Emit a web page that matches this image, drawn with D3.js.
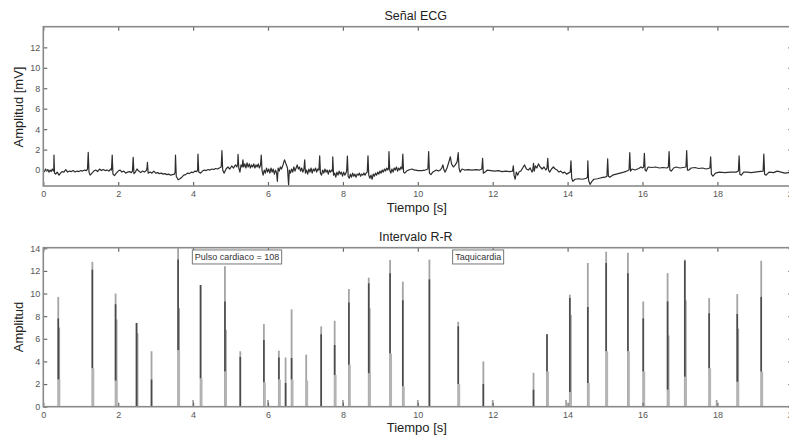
<!DOCTYPE html>
<html><head><meta charset="utf-8">
<script src="https://cdn.jsdelivr.net/npm/d3@7"></script>
<style>body{margin:0;background:#fff}svg{display:block}text{font-family:"Liberation Sans",Arial,sans-serif}</style>
</head><body><svg id="c" width="789" height="439"></svg>
<script>
// ---------- data ----------
const xTicks = [0,2,4,6,8,10,12,14,16,18,20];
const ecgYTicks = [0,2,4,6,8,10,12];
const rrYTicks = [0,2,4,6,8,10,12,14];
const ecgTitle = "Señal ECG", rrTitle = "Intervalo R-R";
const xLabel = "Tiempo [s]", ecgYLabel = "Amplitud [mV]", rrYLabel = "Amplitud";

// ECG trace, [time s, amplitude mV]
const ecgPoints = [
[0,0.0],[0.03,-0.15],[0.06,0.1],[0.09,-0.1],[0.12,0.05],[0.15,-0.2],[0.18,0.0],[0.21,-0.15],[0.24,0.1],[0.27,-0.1],
[0.28,0.0],[0.285,1.47],[0.30,-0.3],[0.33,-0.4],[0.37,-0.2],[0.42,-0.5],[0.46,-0.3],[0.5,-0.15],[0.55,-0.2],[0.6,0.05],[0.65,-0.2],[0.7,-0.1],[0.75,-0.15],[0.8,-0.05],[0.85,-0.2],[0.9,-0.1],[0.95,-0.15],[1.0,-0.05],[1.05,-0.1],[1.1,0.0],[1.15,-0.05],[1.18,0.1],
[1.2,1.73],[1.22,-0.2],[1.25,-0.5],[1.3,-0.3],[1.35,-0.1],[1.4,0.0],[1.45,-0.15],[1.5,0.1],[1.55,-0.05],[1.6,0.05],[1.65,-0.05],[1.7,0.0],[1.75,-0.1],[1.8,0.1],[1.82,0.0],
[1.84,1.47],[1.86,-0.4],[1.9,-0.55],[1.95,-0.3],[2.0,-0.1],[2.05,0.0],[2.1,-0.2],[2.15,-0.1],[2.2,-0.3],[2.25,-0.2],[2.3,-0.15],[2.35,-0.25],[2.38,-0.1],
[2.4,1.24],[2.42,-0.35],[2.46,-0.2],[2.5,0.1],[2.55,-0.1],[2.6,-0.25],[2.65,-0.1],[2.7,-0.2],[2.75,-0.05],[2.77,0.2],
[2.78,0.75],[2.8,-0.3],[2.85,-0.2],[2.9,-0.3],[2.95,-0.1],[3.0,-0.3],[3.05,-0.25],[3.1,-0.35],[3.15,-0.3],[3.2,-0.4],[3.25,-0.35],[3.3,-0.45],[3.35,-0.4],[3.4,-0.5],[3.45,-0.45],[3.5,-0.4],[3.52,-0.2],
[3.53,1.47],[3.55,-0.6],[3.6,-0.95],[3.65,-0.85],[3.7,-0.7],[3.75,-0.5],[3.8,-0.45],[3.85,-0.3],[3.9,-0.35],[3.95,-0.2],[4.0,-0.25],[4.05,-0.1],[4.1,-0.15],[4.12,0.0],
[4.13,1.57],[4.15,-0.2],[4.2,-0.3],[4.25,-0.1],[4.3,0.0],[4.35,-0.05],[4.4,0.05],[4.45,0.0],[4.5,0.1],[4.55,0.05],[4.6,0.15],[4.65,0.1],[4.7,0.2],[4.75,0.3],
[4.77,1.9],[4.79,0.0],[4.83,-0.3],[4.88,0.1],[4.93,0.3],[4.98,0.1],[5.03,0.4],[5.08,0.2],[5.13,0.5],[5.17,0.3],[5.19,0.6],
[5.2,1.53],[5.22,0.2],[5.25,-0.2],[5.28,0.5],[5.31,0.3],[5.33,1.0],[5.35,0.3],[5.38,0.6],[5.41,0.2],[5.44,0.7],[5.47,0.3],[5.5,0.6],[5.53,0.2],[5.56,0.5],[5.59,0.3],[5.62,0.6],[5.65,0.2],[5.68,0.5],[5.71,0.3],[5.74,0.6],[5.77,0.2],[5.8,0.5],
[5.82,1.47],[5.84,0.0],[5.87,-0.5],[5.9,0.0],[5.93,-0.3],[5.96,0.2],[5.99,-0.2],[6.02,0.1],[6.05,-0.3],[6.08,0.2],[6.11,-0.2],[6.14,0.1],[6.17,-0.4],[6.2,0.0],[6.23,-0.3],[6.25,-1.1],[6.27,0.2],[6.3,-0.1],[6.33,0.3],[6.36,0.1],[6.4,0.5],[6.44,1.0],[6.48,0.6],[6.52,0.2],[6.55,-1.47],[6.57,0.0],[6.6,-0.3],[6.63,0.1],[6.66,-0.2],[6.69,0.3],[6.72,-0.1],[6.75,0.2],[6.78,0.5],[6.81,0.1],[6.84,0.3],[6.87,-0.1],[6.9,0.2],[6.93,-0.2],[6.96,0.1],
[6.98,1.0],[7.0,-0.3],[7.03,0.0],[7.06,-0.4],[7.09,0.1],[7.12,-0.2],[7.15,0.2],[7.18,-0.3],[7.21,0.1],[7.24,-0.1],[7.27,0.2],[7.3,-0.2],[7.33,0.1],[7.36,0.0],
[7.38,1.4],[7.4,-0.3],[7.43,-0.5],[7.46,0.0],[7.49,-0.3],[7.52,0.1],[7.55,-0.2],[7.58,0.0],[7.61,-0.4],[7.64,0.0],[7.67,-0.2],[7.7,0.0],[7.72,-0.1],
[7.73,1.3],[7.75,-0.5],[7.78,-0.3],[7.81,-0.7],[7.84,-0.2],[7.87,-0.5],[7.9,-0.1],[7.93,-0.4],[7.96,-0.2],[7.99,-0.6],[8.02,-0.2],[8.05,-0.5],[8.08,-0.3],[8.1,-0.1],
[8.12,1.37],[8.14,-0.6],[8.17,-0.8],[8.2,-0.4],[8.23,-0.7],[8.26,-0.3],[8.29,-0.6],[8.32,-0.4],[8.35,-0.7],[8.38,-0.4],[8.41,-0.5],[8.44,-0.3],[8.47,-0.6],[8.5,-0.4],[8.53,-0.5],[8.56,-0.3],[8.59,-0.5],[8.62,-0.3],[8.65,-0.2],
[8.67,1.4],[8.69,-0.5],[8.72,-0.8],[8.75,-0.5],[8.78,-0.9],[8.81,-0.4],[8.84,-0.6],[8.87,-0.3],[8.9,-0.5],[8.93,-0.2],[8.96,-0.4],[8.99,-0.1],[9.02,-0.3],[9.05,0.0],[9.08,-0.2],[9.11,0.1],[9.14,-0.1],[9.17,0.2],[9.2,0.0],[9.22,0.2],
[9.23,1.8],[9.25,0.0],[9.28,-0.3],[9.31,0.1],[9.34,-0.2],[9.37,0.2],[9.4,0.0],[9.43,0.3],[9.46,-0.1],[9.49,0.2],[9.52,0.0],[9.55,0.3],[9.58,0.1],
[9.6,1.57],[9.62,-0.2],[9.65,-0.3],[9.7,-0.1],[9.75,0.0],[9.8,0.05],[9.85,0.1],[9.9,0.0],[9.95,0.0],[10.0,-0.05],[10.1,-0.05],[10.2,0.0],[10.27,0.1],
[10.29,1.8],[10.31,-0.3],[10.35,-0.45],[10.4,-0.2],[10.5,0.0],[10.55,-0.1],[10.6,0.0],[10.64,0.2],[10.67,0.5],[10.7,0.0],[10.73,-0.2],[10.78,0.2],[10.83,0.8],[10.87,1.3],[10.9,0.6],[10.95,0.3],[11.0,0.5],[11.05,0.8],
[11.08,1.7],[11.1,0.2],[11.13,-0.2],[11.18,0.1],[11.25,0.0],[11.35,0.05],[11.45,0.0],[11.55,0.05],[11.65,0.0],[11.71,0.1],
[11.73,1.14],[11.75,-0.3],[11.8,-0.2],[11.85,0.0],[11.95,-0.05],[12.05,-0.1],[12.15,-0.05],[12.25,-0.15],[12.35,-0.1],[12.45,-0.15],[12.53,-0.1],
[12.55,0.42],[12.57,-0.5],[12.6,-0.9],[12.63,-0.2],[12.67,-0.5],[12.7,-0.2],[12.75,-0.1],[12.8,0.2],[12.85,0.5],[12.9,0.1],[12.95,0.0],[13.0,0.2],[13.05,-0.2],[13.07,0.0],
[13.09,0.65],[13.11,-0.1],[13.14,0.4],[13.18,0.2],[13.22,0.6],[13.27,0.3],[13.32,0.1],[13.37,0.3],[13.42,0.0],[13.45,0.2],
[13.47,1.14],[13.49,0.0],[13.52,-0.2],[13.57,0.1],[13.62,0.3],[13.67,0.1],[13.72,0.0],[13.77,-0.2],[13.82,-0.1],[13.87,-0.3],[13.92,-0.2],[13.97,-0.4],[14.02,-0.3],[14.07,-0.2],
[14.09,0.9],[14.11,-0.8],[14.14,-1.1],[14.2,-0.9],[14.3,-0.85],[14.4,-0.9],[14.5,-0.8],[14.53,-0.7],
[14.54,0.9],[14.56,-1.0],[14.6,-1.4],[14.65,-1.1],[14.7,-0.9],[14.8,-0.85],[14.9,-0.75],[15.0,-0.7],[15.05,-0.6],
[15.07,1.1],[15.09,-0.6],[15.13,-0.7],[15.2,-0.5],[15.3,-0.4],[15.4,-0.3],[15.5,-0.2],[15.58,-0.1],[15.64,0.0],
[15.66,1.7],[15.68,-0.1],[15.72,0.1],[15.8,0.0],[15.9,0.15],[15.96,0.3],[16.0,0.2],[16.03,0.3],
[16.05,1.63],[16.07,0.0],[16.1,-0.1],[16.15,0.3],[16.25,0.25],[16.35,0.3],[16.45,0.2],[16.55,0.25],[16.65,0.2],[16.69,0.3],
[16.71,1.8],[16.73,0.0],[16.77,-0.1],[16.83,0.2],[16.9,0.3],[17.0,0.2],[17.08,0.25],[17.16,0.3],
[17.18,1.9],[17.2,0.0],[17.24,0.0],[17.3,0.2],[17.4,0.25],[17.5,0.15],[17.6,0.2],[17.7,0.1],[17.8,0.2],
[17.82,1.3],[17.84,-0.4],[17.88,-0.6],[17.95,-0.3],[18.05,-0.2],[18.2,-0.25],[18.35,-0.2],[18.5,-0.2],[18.56,-0.1],
[18.58,1.4],[18.6,-0.4],[18.64,-0.5],[18.7,-0.2],[18.8,-0.2],[18.9,-0.25],[19.0,-0.2],[19.1,-0.15],[19.22,-0.1],
[19.24,1.57],[19.26,-0.4],[19.3,-0.5],[19.38,-0.2],[19.5,-0.25],[19.6,-0.1],[19.7,-0.2],[19.8,-0.3],[19.9,-0.25],[20,-0.3]
];

// R-R interval spikes
const rrTime  = [0.40,1.31,1.93,2.49,2.89,3.60,4.00,4.20,4.85,5.26,5.89,6.00,6.29,6.47,6.63,7.02,7.42,7.78,8.00,8.16,8.69,9.26,9.60,10.00,10.31,11.08,11.75,12.00,13.09,13.45,13.96,14.06,14.54,15.03,15.61,16.02,16.67,17.13,17.78,17.98,18.53,19.17];
const rrLight = [9.7,12.8,10.0,7.4,4.9,14.0,0.6,10.75,12.4,4.9,7.3,0.6,4.95,4.35,8.6,4.6,7.1,7.6,0.6,10.4,11.4,12.97,11.05,0.6,13.0,7.5,4.0,0.6,3.0,6.4,0.6,9.9,12.7,13.7,13.6,9.3,11.8,13.0,9.6,0.6,9.95,12.9];
const rrDark  = [7.8,12.1,9.05,7.4,2.4,13.0,0,10.75,9.3,4.4,5.9,0,4.35,2.1,4.3,0,6.4,5.45,0,9.2,10.9,11.8,9.4,0,11.25,7.1,2.0,0,1.5,6.4,0,9.6,8.8,12.7,11.8,7.8,9.3,12.9,8.25,0,8.2,9.7];
const rrMid   = [7.0,0,7.7,6.5,0,8.7,0,0,6.8,0,0,0,0,0,0,0,0,0,0,0,8.7,0,0,0,0,0,0,0,0,0,0,8.1,0,0,0,0,6.3,9.4,0,0,6.9,0];
const rrLow   = [2.4,3.4,2.3,0,0,5.0,0,2.5,3.1,0,2.15,0,2.4,0,2.4,2.3,0,2.8,0,3.7,2.95,4.7,1.8,0,0,2.0,0,0,0,3.1,0,1.3,2.1,4.9,4.9,3.1,1.5,2.65,3.4,0,2.2,3.1];

const noteText = ["Pulso cardiaco = 108", "Taquicardia"];
const noteTime = [3.98, 10.93];
const noteAmp  = [13.85, 13.85];

// ---------- drawing ----------
const svg = d3.select("#c");
const L = 43.3, R = 792.3;
const x = d3.scaleLinear().domain([0,20]).range([L,R]);
const yTop = d3.scaleLinear().domain([-1.56,14.02]).range([186,26.7]);
const yBot = d3.scaleLinear().domain([0,14.05]).range([406.7,247.7]);

function frame(y, yTicks, title, ylab, titleY, xlabY, ylabY) {
  const [b,t] = y.range();
  const g = svg.append("g");
  const ax = (axis, tx, ty, fmt) => {
    const a = g.append("g").attr("transform",`translate(${tx},${ty})`).call(axis);
    a.select(".domain").remove();
    a.selectAll(".tick line").attr("stroke","#6a6a6a").attr("stroke-width",1.2);
    a.selectAll("text").attr("fill","#555").style("font-size","9px");
    if (!fmt) a.selectAll("text").remove();
    return a;
  };
  ax(d3.axisBottom(x).tickValues(xTicks).tickSize(-4).tickPadding(5).tickFormat(d3.format("d")), 0, b, true);
  ax(d3.axisTop(x).tickValues(xTicks).tickSize(-4), 0, t, false);
  ax(d3.axisLeft(y).tickValues(yTicks).tickSize(-4).tickPadding(3).tickFormat(d3.format("d")), L, 0, true);
  ax(d3.axisRight(y).tickValues(yTicks).tickSize(-4), R, 0, false);
  g.append("rect").attr("x",L).attr("y",t).attr("width",R-L).attr("height",b-t)
    .attr("fill","none").attr("stroke","#8a8a8a").attr("stroke-width",1.6);
  svg.append("text").attr("x",(L+R)/2-2).attr("y",titleY).attr("text-anchor","middle")
    .attr("fill","#222").style("font-size","12.5px").text(title);
  svg.append("text").attr("x",(L+R)/2-1).attr("y",xlabY).attr("text-anchor","middle")
    .attr("fill","#222").style("font-size","13px").text(xLabel);
  svg.append("text").attr("transform",`translate(23,${ylabY}) rotate(-90)`).attr("text-anchor","middle")
    .attr("fill","#222").style("font-size","13px").text(ylab);
}

// top ECG panel
svg.append("clipPath").attr("id","clipTop").append("rect")
  .attr("x",L).attr("y",yTop.range()[1]).attr("width",R-L).attr("height",yTop.range()[0]-yTop.range()[1]);
svg.append("path").datum(ecgPoints)
  .attr("clip-path","url(#clipTop)")
  .attr("d", d3.line().x(d=>x(d[0])).y(d=>yTop(d[1])))
  .attr("fill","none").attr("stroke","#2e2e2e").attr("stroke-width",1.2).attr("stroke-linejoin","round");
frame(yTop, ecgYTicks, ecgTitle, ecgYLabel, 20, 212, 107);

// bottom R-R panel
const rr = rrTime.map((t,i)=>({t, light:rrLight[i], dark:rrDark[i], mid:rrMid[i], low:rrLow[i]}));
const gB = svg.append("g");
gB.selectAll("line.light").data(rr).join("line").attr("class","light")
  .attr("x1",d=>x(d.t)).attr("x2",d=>x(d.t)).attr("y1",yBot(0)).attr("y2",d=>yBot(d.light))
  .attr("stroke","#a4a4a4").attr("stroke-width",1.8);
gB.selectAll("line.mid").data(rr.filter(d=>d.mid>0)).join("line").attr("class","mid")
  .attr("x1",d=>x(d.t+0.03)).attr("x2",d=>x(d.t+0.03)).attr("y1",yBot(0)).attr("y2",d=>yBot(d.mid))
  .attr("stroke","#9a9a9a").attr("stroke-width",1.4);
gB.selectAll("line.dark").data(rr.filter(d=>d.dark>0)).join("line").attr("class","dark")
  .attr("x1",d=>x(d.t)).attr("x2",d=>x(d.t)).attr("y1",d=>yBot(d.low)).attr("y2",d=>yBot(d.dark))
  .attr("stroke","#4a4a4a").attr("stroke-width",1.6);
gB.selectAll("line.low").data(rr.filter(d=>d.low>0)).join("line").attr("class","low")
  .attr("x1",d=>x(d.t+0.02)).attr("x2",d=>x(d.t+0.02)).attr("y1",yBot(0)).attr("y2",d=>yBot(d.low))
  .attr("stroke","#b4b4b4").attr("stroke-width",2.4);
frame(yBot, rrYTicks, rrTitle, rrYLabel, 240.5, 432, 327);

// annotation boxes
noteText.forEach((txt,i)=>{
  const g = svg.append("g").attr("transform",`translate(${x(noteTime[i])},${yBot(noteAmp[i])})`);
  const r = g.append("rect").attr("fill","#fff").attr("stroke","#777").attr("stroke-width",1);
  const tx = g.append("text").attr("x",2.5).attr("y",10.3).attr("fill","#333").style("font-size","9px").text(txt);
  const w = tx.node().getComputedTextLength();
  r.attr("x",0).attr("y",0).attr("width",w+5).attr("height",14);
});
</script></body></html>
